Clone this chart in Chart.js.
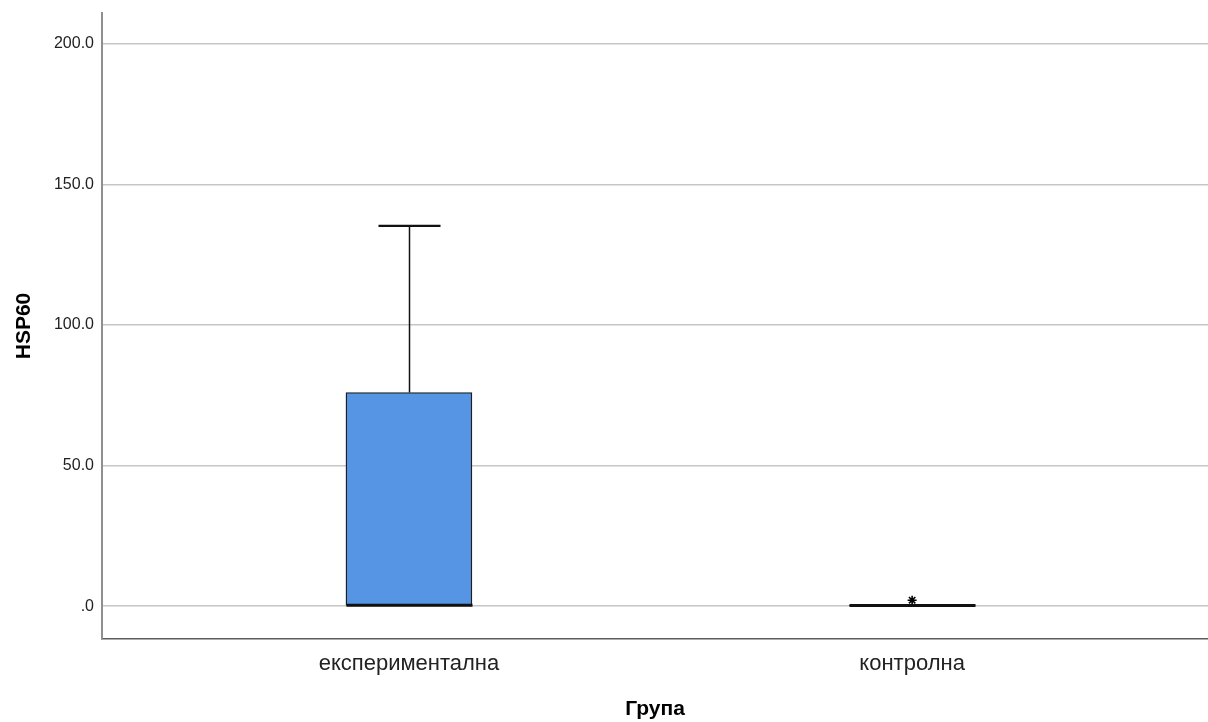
<!DOCTYPE html>
<html>
<head>
<meta charset="utf-8">
<title>HSP60 по група</title>
<script src="https://cdn.jsdelivr.net/npm/chart.js@4/dist/chart.umd.min.js"></script>
<style>
  html, body { margin: 0; padding: 0; background: #ffffff; }
  #wrap { width: 1208px; height: 722px; }
</style>
</head>
<body>
<div id="wrap"><canvas id="c" width="1208" height="722"></canvas></div>
<script>
// Box-plot summary per group (HSP60)
const groups = ['експериментална', 'контролна'];
const q1 = [0, 0];
const q3 = [76, 0.3];
const medians = [0.3, 0.2];
const whiskerLow = [0, 0];
const whiskerHigh = [135.3, 0.6];
const extremes = [[], [2.1]];
const yTicks = [0, 50, 100, 150, 200];

const boxColor = '#5694e4';
const lineColor = '#111111';

function fmtTick(v) {
  const s = v.toFixed(1);
  return s.startsWith('0') ? s.slice(1) : s;
}

// Fixed scale sizes; no extra edge padding for tick labels
function noEdgePadding(scale) {
  scale.paddingTop = 0;
  scale.paddingBottom = 0;
  scale.paddingLeft = 0;
  scale.paddingRight = 0;
}

// Whiskers, caps and medians drawn through the chart's scales
const boxExtras = {
  id: 'boxExtras',
  afterDatasetsDraw(chart) {
    const { ctx, scales: { x, y } } = chart;
    const boxW = 126;
    const capW = 62;
    ctx.save();
    ctx.strokeStyle = lineColor;
    groups.forEach((g, i) => {
      const cx = Math.round(x.getPixelForValue(i)) + 0.5;
      const yq3 = y.getPixelForValue(q3[i]);
      const yq1 = y.getPixelForValue(q1[i]);
      const yh = y.getPixelForValue(whiskerHigh[i]);
      const yl = y.getPixelForValue(whiskerLow[i]);
      // a whisker is only drawn when it reaches visibly beyond the box
      const whiskers = [[yq3, yh], [yq1, yl]].filter(([a, b]) => Math.abs(a - b) > 2);
      whiskers.forEach(([from, to]) => {
        ctx.lineWidth = 1.5;
        ctx.beginPath();
        ctx.moveTo(cx, from);
        ctx.lineTo(cx, to);
        ctx.stroke();
        ctx.lineWidth = 2.2;
        ctx.beginPath();
        ctx.moveTo(cx - capW / 2, to);
        ctx.lineTo(cx + capW / 2, to);
        ctx.stroke();
      });
      // median
      ctx.lineWidth = 3;
      ctx.beginPath();
      const ym = y.getPixelForValue(medians[i]);
      ctx.moveTo(cx - boxW / 2, ym);
      ctx.lineTo(cx + boxW / 2, ym);
      ctx.stroke();
    });
    ctx.restore();
  }
};

const extremePoints = [];
extremes.forEach((arr, i) => arr.forEach(v => extremePoints.push({ x: i, y: v })));

new Chart(document.getElementById('c'), {
  type: 'bar',
  data: {
    datasets: [
      {
        type: 'bar',
        data: groups.map((g, i) => ({ x: i, y: [q1[i], q3[i]] })),
        backgroundColor: boxColor,
        borderColor: '#1e1e1e',
        borderWidth: 1.4,
        borderSkipped: false,
        barThickness: 126
      },
      {
        type: 'scatter',
        data: extremePoints,
        pointStyle: 'star',
        radius: 4.5,
        borderColor: '#000000',
        borderWidth: 1.6,
        backgroundColor: '#000000'
      }
    ]
  },
  options: {
    responsive: false,
    animation: false,
    layout: { autoPadding: false, padding: { top: 13, right: 0, left: 0, bottom: 0 } },
    plugins: { legend: { display: false }, tooltip: { enabled: false } },
    scales: {
      x: {
        type: 'linear',
        min: -0.61,
        max: 1.588,
        offset: false,
        grid: { display: false, drawTicks: false, offset: false },
        border: { display: true, color: '#5a5a5a', width: 1.5 },
        afterBuildTicks(scale) { scale.ticks = groups.map((g, i) => ({ value: i })); },
        afterFit(scale) { scale.height = 83; noEdgePadding(scale); },
        ticks: {
          autoSkip: false,
          maxRotation: 0,
          padding: 12,
          color: '#222222',
          font: { family: '"Liberation Sans", Arial, sans-serif', size: 22 },
          callback: (v) => groups[v]
        },
        title: {
          display: true,
          text: 'Група',
          color: '#000000',
          padding: { top: 0, bottom: 0 },
          font: { family: '"Liberation Sans", Arial, sans-serif', size: 21, weight: 'bold' }
        }
      },
      y: {
        min: -11.7,
        max: 211,
        grid: { color: '#c6c6c6', lineWidth: 1.5, drawTicks: false },
        border: { display: true, color: '#8f8f8f', width: 2 },
        afterBuildTicks(scale) { scale.ticks = yTicks.map(v => ({ value: v })); },
        afterFit(scale) { scale.width = 102; noEdgePadding(scale); },
        ticks: {
          padding: 8,
          color: '#222222',
          font: { family: '"Liberation Sans", Arial, sans-serif', size: 16 },
          callback: (v) => fmtTick(v)
        },
        title: {
          display: true,
          text: 'HSP60',
          color: '#000000',
          padding: { top: 12, bottom: 0 },
          font: { family: '"Liberation Sans", Arial, sans-serif', size: 21, weight: 'bold' }
        }
      }
    }
  },
  plugins: [boxExtras]
});
</script>
</body>
</html>
